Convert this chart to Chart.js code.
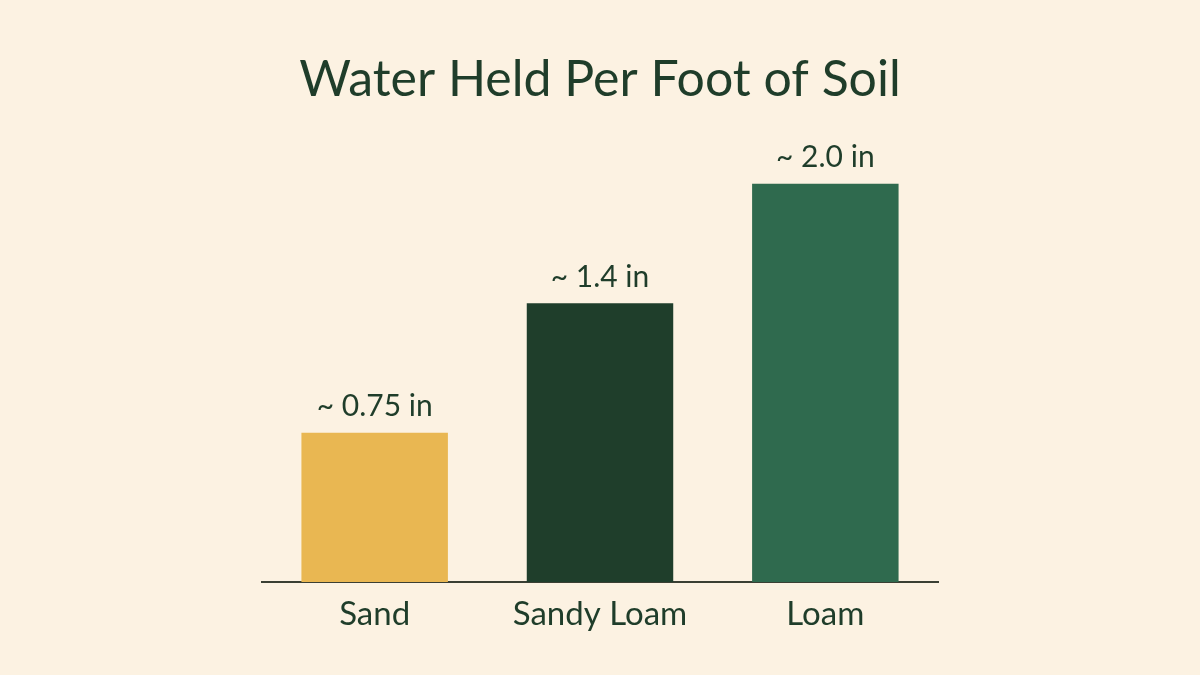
<!DOCTYPE html>
<html>
<head>
<meta charset="utf-8">
<script src="https://cdn.jsdelivr.net/npm/chart.js@4.4.1/dist/chart.umd.min.js"></script>
<style>
  html, body { margin: 0; padding: 0; background: #fcf2e2; }
  #wrap { width: 1200px; height: 675px; position: relative; }
</style>
</head>
<body>
<div id="wrap"><canvas id="chart"></canvas></div>
<script>
// ── Data ─────────────────────────────────────────────
const soils      = ['Sand', 'Sandy Loam', 'Loam'];
const waterIn    = [0.75, 1.4, 2.0];
const valueLabel = ['~ 0.75 in', '~ 1.4 in', '~ 2.0 in'];
const barColors  = ['#e9b752', '#1f3e2b', '#2f6a4e'];

const INK = '#1f3d2a';
const FONT = 'Lato, "Open Sans", sans-serif';

// labels above each bar
const valueLabels = {
  id: 'valueLabels',
  afterDatasetsDraw(chart) {
    const { ctx } = chart;
    const meta = chart.getDatasetMeta(0);
    ctx.save();
    ctx.fillStyle = INK;
    ctx.font = '30px ' + FONT;
    ctx.textAlign = 'center';
    ctx.textBaseline = 'middle';
    meta.data.forEach((bar, i) => {
      ctx.fillText(valueLabel[i], bar.x, bar.y - 26);
    });
    ctx.restore();
  }
};

new Chart(document.getElementById('chart'), {
  type: 'bar',
  data: {
    labels: soils,
    datasets: [{
      data: waterIn,
      backgroundColor: barColors,
      borderWidth: 0,
      barPercentage: 0.65,
      categoryPercentage: 1.0,
    }]
  },
  options: {
    responsive: true, maintainAspectRatio: false,
    animation: false,
    layout: { padding: { left: 262, right: 262, top: 0, bottom: 33 } },
    plugins: {
      legend: { display: false },
      tooltip: { enabled: false },
      title: {
        display: true,
        text: 'Water Held Per Foot of Soil',
        color: INK,
        font: { family: FONT, size: 50, weight: 'normal' },
        padding: { top: 50, bottom: 34 }
      }
    },
    scales: {
      x: {
        grid: { display: false },
        border: { display: true, color: '#3a3f33', width: 2 },
        ticks: { color: INK, font: { family: FONT, size: 33 }, padding: 5 },
        afterFit(scale) { scale.height = 60; }
      },
      y: {
        display: false,
        min: 0, max: 2.2,
        grid: { display: false }
      }
    }
  },
  plugins: [valueLabels]
});
</script>
</body>
</html>
